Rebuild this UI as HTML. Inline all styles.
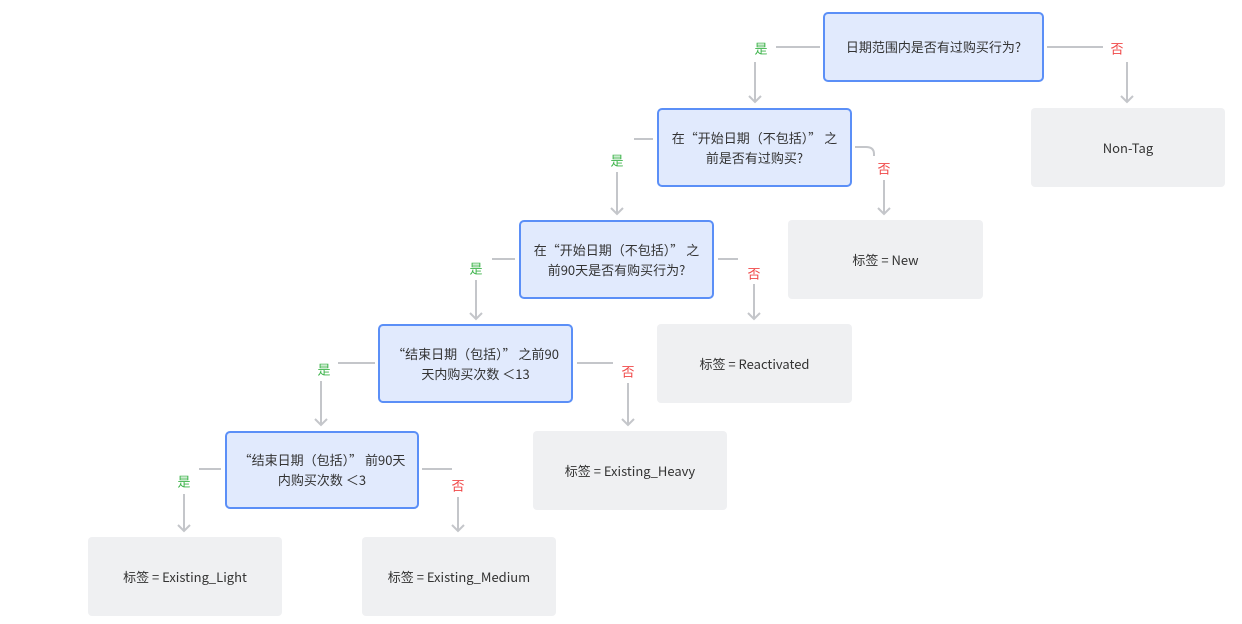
<!DOCTYPE html>
<html><head><meta charset="utf-8"><style>
body{margin:0;width:1242px;height:624px;background:#fff;position:relative;overflow:hidden;font-family:"Noto Sans CJK SC","Liberation Sans",sans-serif;}
.b{position:absolute;box-sizing:border-box;display:flex;align-items:center;justify-content:center;text-align:center;font-size:13px;color:#333;line-height:20px;}
.d{background:#e1eafd;border:2px solid #5b8ff7;border-radius:5px;}
.g{background:#eff0f2;border-radius:4px;}
.l{position:absolute;font-size:13px;transform:translate(-50%,-50%);}
.y{color:#3cb34a}.n{color:#f04848}
svg{position:absolute;left:0;top:0}
</style></head><body>
<svg width="1242" height="624" fill="none" stroke="#c4c6ca" stroke-width="2">
<path d="M776 47H820M755 62V102M749 96l6 6 6-6"/>
<path d="M1047 47H1103M1127 62V102M1121 96l6 6 6-6"/>
<path d="M634 139H653M617 172V214M611 208l6 6 6-6"/>
<path d="M855 147H866Q874 147 874 154V156M884 180V214M878 208l6 6 6-6"/>
<path d="M492 259H515M476 280V319M470 313l6 6 6-6"/>
<path d="M718 259H738M754 284V319M748 313l6 6 6-6"/>
<path d="M338 363H375M321 381V425M315 419l6 6 6-6"/>
<path d="M577 363H613M628 383V425M622 419l6 6 6-6"/>
<path d="M199 469H221M184 494V531M178 525l6 6 6-6"/>
<path d="M422 469H452M458 497V531M452 525l6 6 6-6"/>
</svg>
<div class="b d" style="left:823px;top:12px;width:221px;height:70px">日期范围内是否有过购买行为?</div>
<div class="b d" style="left:657px;top:108px;width:195px;height:79px">在“开始日期（不包括）” 之<br>前是否有过购买?</div>
<div class="b d" style="left:519px;top:220px;width:195px;height:79px">在“开始日期（不包括）” 之<br>前90天是否有购买行为?</div>
<div class="b d" style="left:378px;top:324px;width:195px;height:79px">“结束日期（包括）” 之前90<br>天内购买次数 ＜13</div>
<div class="b d" style="left:225px;top:431px;width:194px;height:78px">“结束日期（包括）” 前90天<br>内购买次数 ＜3</div>
<div class="b g" style="left:1031px;top:108px;width:194px;height:79px">Non-Tag</div>
<div class="b g" style="left:788px;top:220px;width:195px;height:79px">标签 = New</div>
<div class="b g" style="left:657px;top:324px;width:195px;height:79px">标签 = Reactivated</div>
<div class="b g" style="left:533px;top:431px;width:194px;height:79px">标签 = Existing_Heavy</div>
<div class="b g" style="left:88px;top:537px;width:194px;height:79px">标签 = Existing_Light</div>
<div class="b g" style="left:362px;top:537px;width:194px;height:79px">标签 = Existing_Medium</div>
<div class="l y" style="left:761px;top:48px">是</div>
<div class="l n" style="left:1117px;top:48px">否</div>
<div class="l y" style="left:617px;top:160px">是</div>
<div class="l n" style="left:884px;top:168px">否</div>
<div class="l y" style="left:476px;top:268px">是</div>
<div class="l n" style="left:754px;top:273px">否</div>
<div class="l y" style="left:324px;top:369px">是</div>
<div class="l n" style="left:628px;top:371px">否</div>
<div class="l y" style="left:184px;top:481px">是</div>
<div class="l n" style="left:458px;top:485px">否</div>
</body></html>
